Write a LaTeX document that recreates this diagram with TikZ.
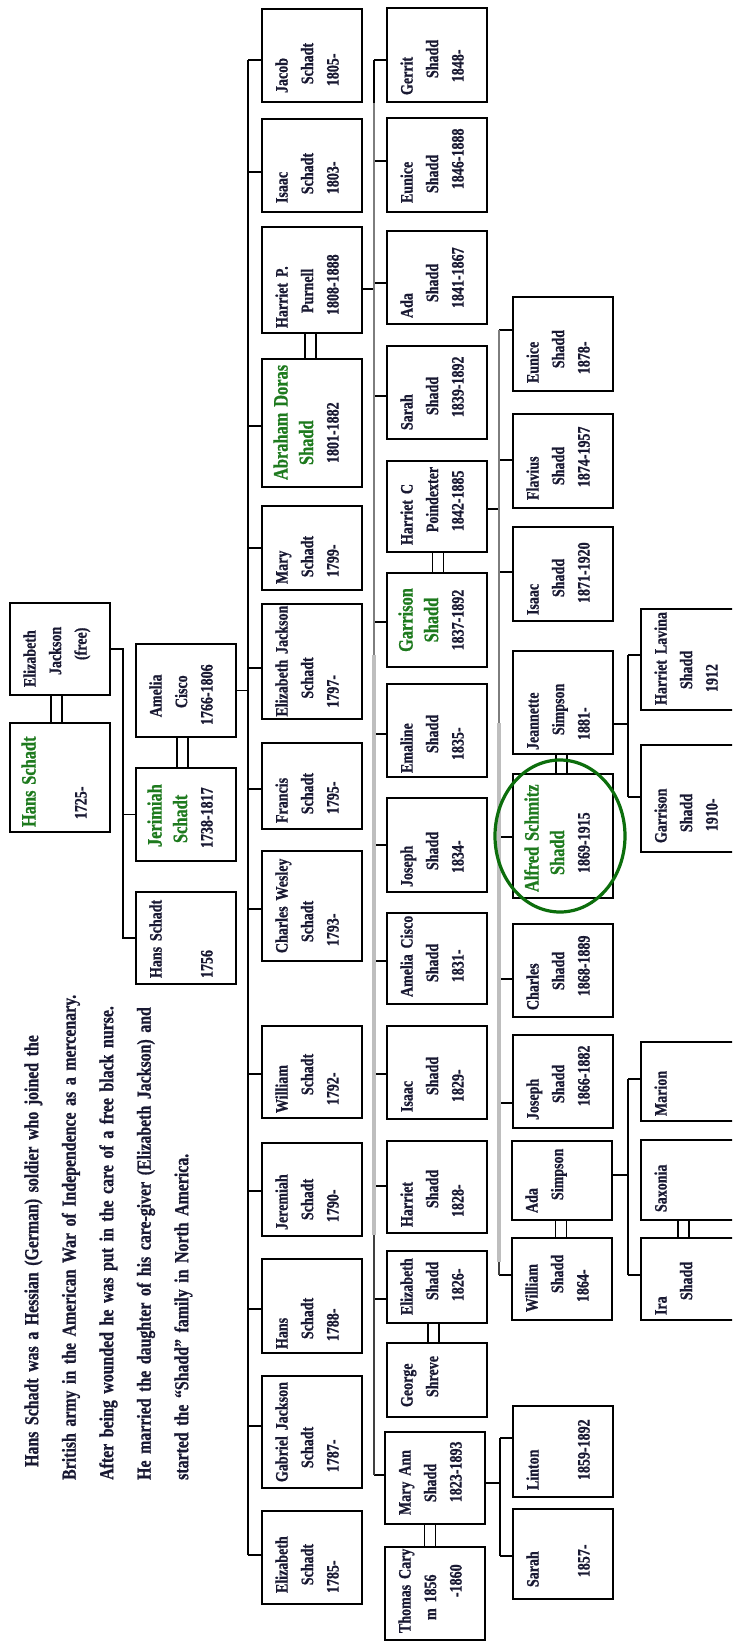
\documentclass[tikz,border=0pt]{standalone}
\usepackage{fontspec}
\usetikzlibrary{shapes.geometric}
\newfontfamily\cf{Liberation Serif}[FakeStretch=0.8, FakeBold=0.8]
\definecolor{ink}{RGB}{25,25,50}
\definecolor{grn}{RGB}{30,122,30}
\definecolor{ellc}{RGB}{12,110,12}
\definecolor{lg}{RGB}{190,190,190}
\definecolor{mg}{RGB}{125,125,125}
\newcommand\bxf{\cf\bfseries\fontsize{17.5}{25.5}\selectfont}
\newcommand\G[1]{{\color{grn}\fontsize{20.5}{25.5}\selectfont #1}}
\newcommand\tl[3]{\strut\mbox{#1}\\\strut\mbox{#2}\\\strut\mbox{#3}}
\newcommand\ind[1]{\hspace*{#1pt}}
% box: name, left x, top y, bottom y, pad, align, text
\newcommand\pb[7]{%
  \pgfmathsetlengthmacro\tw{#4-#3-2*#5}%
  \node[box, minimum height={#4-#3}] (#1) at ({#2+50},{(#3+#4)/2}) {};
  \node[txt, align=#6, text width=\tw] (#1TX) at ([xshift=-4pt]#1.center) {#7};}
\newcommand\tick[3][0]{\coordinate (#3TK) at ([yshift=#1pt]#3.west); \draw[ln] (#2 |- #3TK) -- (#3TK);}
\newcommand\conn[3][0]{\coordinate (#2CN) at ([yshift=#1pt]#2.east); \draw[ln] (#2CN) -- (#2CN -| #3);}
\newcommand\marr[3]{\draw[ln] ([xshift=#3pt-5.5pt]#1.south) -- ([xshift=#3pt-5.5pt]#2.north);
  \draw[ln] ([xshift=#3pt+5.5pt]#1.south) -- ([xshift=#3pt+5.5pt]#2.north);}
\begin{document}
\begin{tikzpicture}[x=1pt,y=-1pt,
  box/.style={draw=black, line width=1.7, fill=white, minimum width=100, inner sep=0},
  txt/.style={rotate=90, inner sep=0, font=\bxf, text=ink},
  ln/.style={line width=1.6, draw=black},
  para/.style={rotate=90, anchor=north west, inner sep=0, text width=540pt, align=left,
    font=\cf\bfseries\fontsize{19.8}{37.5}\selectfont, text=ink}]
\useasboundingbox (0,0) rectangle (732,1642);
\fill[white] (0,0) rectangle (732,1642);
\clip (0,0) rectangle (732,1642);

% paragraph
\node[para] (para) at (11.75,1480) {\strut\hspace*{13pt}Hans Schadt was a Hessian (German) soldier who joined the\\British army in the American War of Independence as a mercenary.\\After being wounded he was put in the care of a free black nurse.\\He married the daughter of his care-giver (Elizabeth Jackson) and\\started the “Shadd” family in North America.};

% column 1
\pb{ej}{10}{603}{695}{8}{left}{\tl{Elizabeth}{\ind{12}Jackson}{\ind{27}(free)}}
\pb{hans}{10}{723}{832}{5}{left}{\tl{\G{Hans Schadt}}{}{\ind2 1725-}}
\pb{amelia}{136}{644}{737}{12}{left}{\tl{\ind2 Amelia}{\ind{17}Cisco}{1766-1806}}
\pb{jer}{136}{768}{861}{13}{left}{\tl{\ind1\G{Jerimiah}}{\ind5\G{Schadt}}{1738-1817}}
\pb{hans2}{136}{892}{984}{6}{left}{\tl{Hans Schadt}{}{1756}}

% column 2
\pb{jacob}{262}{9}{102}{9}{left}{\tl{Jacob}{\ind3 Schadt}{\ind1 1805-}}
\pb{isaac}{262}{119}{212}{9}{left}{\tl{Isaac}{\ind3 Schadt}{\ind3 1803-}}
\pb{hp}{262}{227}{333}{5}{left}{\tl{Harriet P.}{\ind{15}Purnell}{\ind{13}1808-1888}}
\pb{abraham}{262}{359}{487}{7}{left}{\tl{\G{Abraham Doras}}{\ind{15}\G{Shadd}}{\ind{17}1801-1882}}
\pb{mary}{262}{506}{590}{6}{left}{\tl{Mary}{\ind1 Schadt}{\ind1 1799-}}
\pb{ejs}{262}{604}{719}{2.5}{left}{\tl{Elizabeth Jackson}{\ind{18}Schadt}{\ind3 1797-}}
\pb{francis}{262}{743}{829}{6}{left}{\tl{Francis}{\ind3 Schadt}{\ind3 1795-}}
\pb{cw}{262}{851}{961}{8}{left}{\tl{Charles Wesley}{\ind{11}Schadt}{\ind1 1793-}}
\pb{william}{262}{1026}{1118}{5}{left}{\tl{William}{\ind{18}Schadt}{\ind2 1792-}}
\pb{jeremiah}{262}{1143}{1236}{6}{left}{\tl{Jeremiah}{\ind{10}Schadt}{\ind2 1790-}}
\pb{hans3}{262}{1259}{1353}{4}{left}{\tl{Hans}{\ind{10}Schadt}{\ind2 1788-}}
\pb{gabriel}{262}{1376}{1488}{6}{left}{\tl{Gabriel Jackson}{\ind{14}Schadt}{\ind4 1787-}}
\pb{eliz}{262}{1511}{1604}{11}{left}{\tl{Elizabeth}{\ind2 Schadt}{1785-}}

% column 3
\pb{gerrit}{387}{8}{102}{7}{left}{\tl{Gerrit}{\ind{17}Shadd}{\ind7 1848-}}
\pb{eunice}{387}{118}{212}{9}{left}{\tl{Eunice}{\ind{10}Shadd}{\ind8 1846-1888}}
\pb{ada}{387}{231}{324}{6}{left}{\tl{Ada}{\ind{16}Shadd}{\ind{10}1841-1867}}
\pb{sarah}{387}{346}{439}{9}{left}{\tl{Sarah}{\ind{15}Shadd}{\ind7 1839-1892}}
\pb{hc}{387}{461}{552}{7}{left}{\tl{Harriet C}{\ind7 Poindexter}{\ind8 1842-1885}}
\pb{garrison}{387}{573}{667}{8}{center}{\tl{\G{Garrison}}{\G{Shadd}}{1837-1892}}
\pb{emaline}{387}{684}{777}{4}{left}{\tl{Emaline}{\ind{20}Shadd}{\ind{13}1835-}}
\pb{joseph}{387}{798}{892}{5}{left}{\tl{Joseph}{\ind{17}Shadd}{\ind{14}1834-}}
\pb{ameliac}{387}{913}{1004}{7}{left}{\tl{Amelia Cisco}{\ind{15}Shadd}{\ind9 1831-}}
\pb{isaacs}{387}{1026}{1119}{7}{left}{\tl{Isaac}{\ind{17}Shadd}{\ind{10}1829-}}
\pb{harriet}{387}{1141}{1233}{6}{left}{\tl{Harriet}{\ind{19}Shadd}{\ind{10}1828-}}
\pb{elizs}{387}{1251}{1323}{8}{left}{\tl{Elizabeth}{\ind{15}Shadd}{\ind8 1826-}}
\pb{george}{387}{1343}{1417}{10}{left}{\tl{George}{\ind{10}Shreve}{}}
\pb{maryann}{385}{1432}{1524}{9}{left}{\tl{Mary Ann}{\ind{13}Shadd}{\ind7 1823-1893}}
\pb{thomas}{385}{1547}{1640}{7}{left}{\tl{Thomas Cary}{\ind{13}m 1856}{\ind{36}-1860}}

% column 4
\pb{eunice2}{513}{297}{391}{8}{left}{\tl{Eunice}{\ind9 Shadd}{\ind3 1878-}}
\pb{flavius}{513}{414}{508}{8}{left}{\tl{Flavius}{\ind{15}Shadd}{\ind7 1874-1957}}
\pb{isaac3}{513}{527}{621}{6}{left}{\tl{Isaac}{\ind{18}Shadd}{\ind{12}1871-1920}}
\pb{jeannette}{513}{651}{754}{4}{left}{\tl{Jeannette}{\ind{15}Simpson}{\ind{10}1881-}}
\pb{alfred}{513}{774}{898}{6}{left}{\tl{\G{Alfred Schmitz}}{\ind{17}\G{Shadd}}{\ind{19}1869-1915}}
\pb{charles}{513}{924}{1017}{7}{left}{\tl{Charles}{\ind{20}Shadd}{\ind8 1868-1889}}
\pb{joseph2}{513}{1035}{1128}{8}{left}{\tl{Joseph}{\ind{17}Shadd}{\ind8 1866-1882}}
\pb{adas}{512}{1141}{1220}{7}{left}{\tl{Ada}{\ind{13}Simpson}{}}
\pb{william2}{512}{1238}{1320}{8}{left}{\tl{William}{\ind{19}Shadd}{\ind{10}1864-}}
\pb{linton}{513}{1406}{1497}{7}{left}{\tl{Linton}{}{\ind{10}1859-1892}}
\pb{sarah2}{513}{1509}{1599}{12}{left}{\tl{Sarah}{}{\ind4 1857-}}

% column 5
\pb{hl}{641}{609}{710}{5}{left}{\tl{Harriet Lavina}{\ind{16}Shadd}{\ind{13}1912}}
\pb{garrison2}{641}{745}{852}{9}{left}{\tl{Garrison}{\ind{11}Shadd}{\ind6 1910-}}
\pb{marion}{641}{1042}{1121}{5}{left}{\tl{Marion}{}{}}
\pb{saxonia}{641}{1140}{1220}{8}{left}{\tl{Saxonia}{}{}}
\pb{ira}{641}{1238}{1320}{5}{left}{\tl{Ira}{\ind{15}Shadd}{}}

% trunk positions
\coordinate (x1) at (123,0);
\coordinate (x2) at (248,0);
\coordinate (x3) at (374,0);
\coordinate (x4) at (499,0);
\coordinate (x5) at (628,0);
\coordinate (x6) at (500,0);
\coordinate (b3a) at (374,655);
\coordinate (b3b) at (374,1235);
\coordinate (b4a) at (499,723);
\coordinate (b4b) at (499,1262);

% founders -> children
\draw[ln] (ej.east) -- (ej.east -| x1) -- (x1 |- hans2.west) -- (hans2.west);
\draw[ln] (x1 |- jer.west) -- (jer.west);

% Jerimiah & Amelia -> children
\conn{amelia}{x2}
\tick[-4.5]{x2}{jacob}
\tick[-6.5]{x2}{isaac}
\tick[-3]{x2}{abraham}
\tick{x2}{mary}
\tick[-6.5]{x2}{ejs}
\tick[-3]{x2}{francis}
\tick[-3]{x2}{cw}
\tick[-2]{x2}{william}
\tick[-1.5]{x2}{jeremiah}
\tick[-3]{x2}{hans3}
\tick[6]{x2}{gabriel}
\tick[2.5]{x2}{eliz}
\draw[ln] (x2 |- jacobTK) -- (x2 |- elizTK);

% Abraham & Harriet P. -> children
\conn[-9]{hp}{x3}
\tick[-5]{x3}{gerrit}
\tick[4]{x3}{eunice}
\tick[-5.5]{x3}{ada}
\tick[-3.5]{x3}{sarah}
\tick[-2]{x3}{garrison}
\tick[-3.5]{x3}{emaline}
\tick{x3}{joseph}
\tick[-2.5]{x3}{ameliac}
\tick[-1.5]{x3}{isaacs}
\tick[1]{x3}{harriet}
\tick[-12]{x3}{elizs}
\tick[3]{x3}{maryann}
\draw[line width=1.4, mg] (x3 |- gerritTK) -- (x3 |- maryannTK);
\draw[ln] (x3 |- gerritTK) -- (x3 |- gerrit.south);
\draw[line width=3.5, lg] (b3a) -- (b3b);
\draw[line width=1.4, black!75] (b3b) -- (x3 |- maryannTK);

% Garrison & Harriet C. -> children
\conn[-2.5]{hc}{x4}
\tick[14]{x4}{eunice2}
\tick[1]{x4}{flavius}
\tick[2]{x4}{isaac3}
\tick[-1]{x4}{alfred}
\tick[-8.5]{x4}{charles}
\tick[-21.5]{x4}{joseph2}
\tick[4]{x4}{william2}
\draw[line width=1.4, mg] (x4 |- eunice2TK) -- (x4 |- william2TK);
\draw[line width=3.5, lg] (b4a) -- (b4b);
\draw[line width=1.4, black!75] (b4b) -- (x4 |- william2TK);

% Alfred & Jeannette -> children
\conn[-21.5]{jeannette}{x5}
\tick[4.5]{x5}{hl}
\tick[1.5]{x5}{garrison2}
\draw[ln] (x5 |- hlTK) -- (x5 |- garrison2TK);

% William & Ada -> children
\conn[5.5]{adas}{x5}
\tick[2.5]{x5}{marion}
\tick[4]{x5}{ira}
\draw[ln] (x5 |- marionTK) -- (x5 |- iraTK);

% Mary Ann -> children
\conn[-5]{maryann}{x6}
\tick[13.5]{x6}{linton}
\tick[-2]{x6}{sarah2}
\draw[ln] (x6 |- lintonTK) -- (x6 |- sarah2TK);

% marriages
\marr{ej}{hans}{-3.5}
\marr{amelia}{jer}{-3.5}
\marr{hp}{abraham}{-1.5}
\marr{hc}{garrison}{1}
\marr{elizs}{george}{-3.5}
\marr{maryann}{thomas}{-5}
\marr{jeannette}{alfred}{-1.5}
\marr{adas}{william2}{-1}
\marr{saxonia}{ira}{-7.5}

% highlight
\node[ellipse, draw=ellc, line width=3.2, minimum width=130, minimum height=152, inner sep=0] (ring) at ([xshift=-3pt]alfred.center) {};
\end{tikzpicture}
\end{document}
